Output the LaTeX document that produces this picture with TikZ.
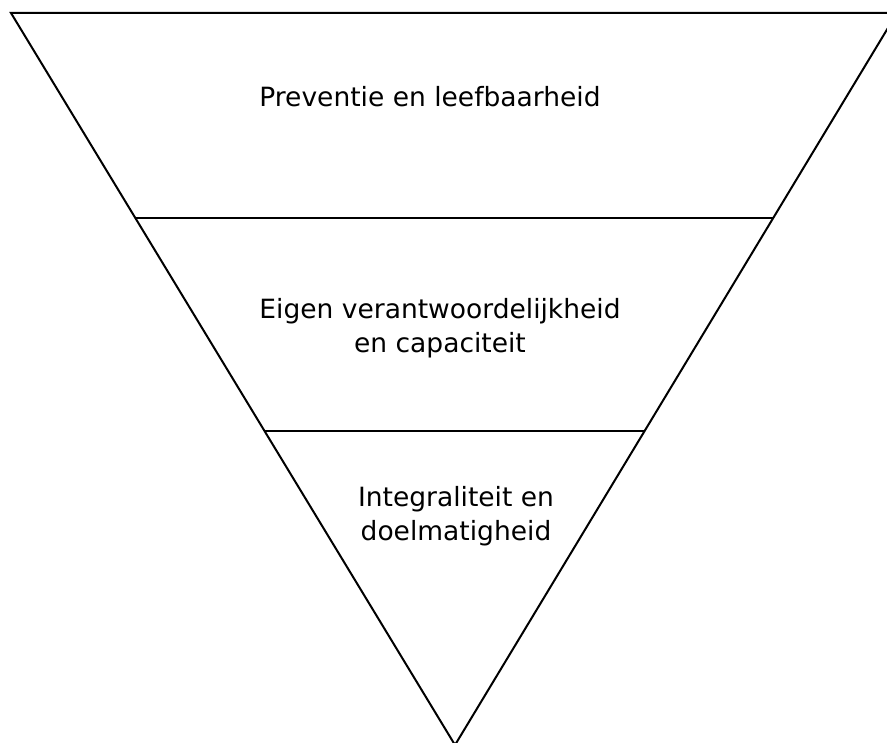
\documentclass[tikz,border=0pt]{standalone}
\usepackage{fontspec}
\setmainfont{DejaVu Sans}
\usetikzlibrary{calc}

\begin{document}
\begin{tikzpicture}[x=1pt,y=-1pt,
	edge/.style={line width=2pt, line join=miter},
	label/.style={font=\fontsize{26.5}{34}\selectfont, align=center, inner sep=0pt}]
	\useasboundingbox (0,0) rectangle (887,743);
	\clip (0,0) rectangle (887,743);
	\coordinate (TL) at (11,13);
	\coordinate (TR) at (897,13);
	\coordinate (A) at (455,745);
	% levels of the triangle
	\coordinate (L1) at ($(TL)!0.28!(A)$);
	\coordinate (R1) at ($(TR)!0.28!(A)$);
	\coordinate (L2) at ($(TL)!0.571!(A)$);
	\coordinate (R2) at ($(TR)!0.571!(A)$);
	\draw[edge] (TL) -- (TR) -- (A) -- cycle;
	\draw[edge] (L1) -- (R1);
	\draw[edge] (L2) -- (R2);
	\node[label] (prev) at (430,97) {Preventie en leefbaarheid};
	\node[label] (eigen) at (440,328) {Eigen verantwoordelijkheid\\en capaciteit};
	\node[label] (integr) at (456,516) {Integraliteit en\\doelmatigheid};
\end{tikzpicture}
\end{document}
